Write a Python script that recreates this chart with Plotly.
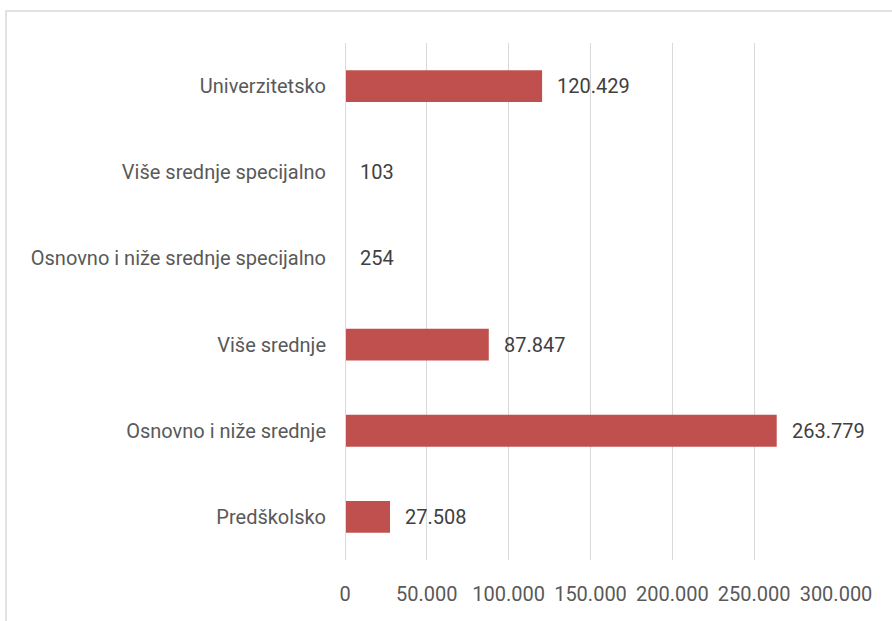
import plotly.graph_objects as go

categories = ["Predškolsko", "Osnovno i niže srednje", "Više srednje",
              "Osnovno i niže srednje specijalno", "Više srednje specijalno", "Univerzitetsko"]
values = [27508, 263779, 87847, 254, 103, 120429]
tick_vals = [0, 50000, 100000, 150000, 200000, 250000, 300000]
tick_text = ["0", "50.000", "100.000", "150.000", "200.000", "250.000", "300.000"]

FONT = "Roboto, 'Open Sans', sans-serif"


def fmt(v):
    return f"{v:,}".replace(",", ".")


fig = go.Figure()
fig.add_trace(go.Bar(
    y=categories, x=values, orientation="h",
    marker=dict(color="#C0504D", line=dict(width=0)),
    hoverinfo="skip",
))

annotations = [
    dict(x=v, y=c, xref="x", yref="y", text=fmt(v), showarrow=False,
         xanchor="left", yanchor="middle", xshift=13,
         font=dict(family=FONT, size=20, color="#404040"))
    for c, v in zip(categories, values)
]

L, R, T, B = 345, 836, 43, 560
W, H = 892, 621
pw, ph = R - L, B - T

fig.update_layout(
    width=W, height=H,
    margin=dict(l=L, r=W - R, t=T, b=H - B, pad=0),
    paper_bgcolor="white", plot_bgcolor="white",
    showlegend=False,
    bargap=0.63,
    annotations=annotations,
    shapes=[dict(type="rect", xref="paper", yref="paper",
                 x0=(6 - L) / pw, x1=(W + 20 - L) / pw,
                 y0=(B - (H + 20)) / ph, y1=1 + (T - 11) / ph,
                 line=dict(color="#D9D9D9", width=1.5), layer="below")],
    xaxis=dict(range=[0, 300000], tickvals=tick_vals, ticktext=tick_text,
               showgrid=True, gridcolor="#D9D9D9", gridwidth=1,
               zeroline=True, zerolinecolor="#D9D9D9", zerolinewidth=1,
               showline=False, ticks="",
               ticklabelstandoff=20,
               tickfont=dict(family=FONT, size=20, color="#595959"),
               fixedrange=True),
    yaxis=dict(categoryorder="array", categoryarray=categories,
               showgrid=False, zeroline=False, showline=False, ticks="",
               ticklabelstandoff=18,
               tickfont=dict(family=FONT, size=20, color="#595959"),
               fixedrange=True),
)

try:
    fig.update_xaxes(zerolinelayer="above traces")
except Exception:
    fig.add_shape(type="line", xref="x", yref="paper", x0=0, x1=0, y0=0, y1=1,
                  line=dict(color="#D9D9D9", width=2), layer="above")

fig.write_html("out.html", config={"displayModeBar": False},
               post_script="document.body.style.margin='0';")
